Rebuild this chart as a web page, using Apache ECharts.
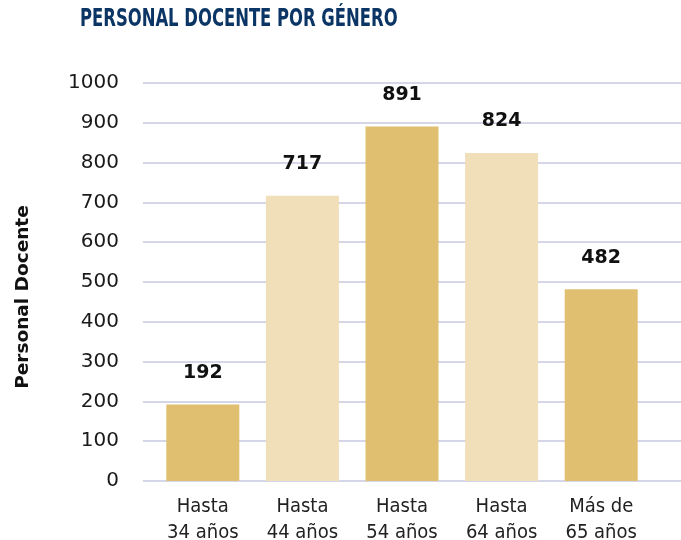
<!DOCTYPE html>
<html>
<head>
<meta charset="utf-8">
<script src="https://cdn.jsdelivr.net/npm/echarts@6/dist/echarts.min.js"></script>
<style>
  html, body { margin: 0; padding: 0; background: #fff; }
  #chart { width: 681px; height: 540px; }
</style>
</head>
<body>
<div id="chart"></div>
<script>
// age groups and headcount
const categories = ['Hasta\n34 años', 'Hasta\n44 años', 'Hasta\n54 años', 'Hasta\n64 años', 'Más de\n65 años'];
const values = [192, 717, 891, 824, 482];
const barColors = ['#e0c070', '#f0dfb8', '#e0c070', '#f0dfb8', '#e0c070'];

const chart = echarts.init(document.getElementById('chart'));

chart.setOption({
    animation: false,
    // condensed bold title, squeezed horizontally since no narrow font is around
    graphic: [{
        type: 'text',
        x: 80,
        y: 7,
        scaleX: 0.73,
        style: {
            text: 'PERSONAL DOCENTE POR GÉNERO',
            fontFamily: 'DejaVu Sans Condensed, sans-serif',
            fontWeight: 'bold',
            fontSize: 25,
            fill: '#0b3564',
            verticalAlign: 'top'
        }
    }],
    grid: [
        // background grid: gridlines run wider than the bars
        { left: 143, right: 0, top: 83, bottom: 59, outerBoundsMode: 'none' },
        { left: 153, right: 30, top: 83, bottom: 59, outerBoundsMode: 'none' }
    ],
    xAxis: [
        { type: 'value', gridIndex: 0, show: false, min: 0, max: 1 },
        {
            type: 'category',
            gridIndex: 1,
            data: categories,
            axisLine: { show: false },
            axisTick: { show: false },
            axisLabel: {
                margin: 13,
                fontFamily: 'DejaVu Sans Condensed, sans-serif',
                fontSize: 20,
                lineHeight: 26,
                color: '#222'
            }
        }
    ],
    yAxis: [
        {
            type: 'value',
            gridIndex: 0,
            min: 0,
            max: 1000,
            interval: 100,
            name: 'Personal Docente',
            nameLocation: 'middle',
            nameGap: 110,
            nameTextStyle: {
                fontFamily: 'DejaVu Sans, sans-serif',
                fontWeight: 'bold',
                fontSize: 18.5,
                color: '#111',
                padding: [0, 30, 0, 0]
            },
            axisLine: { show: false },
            axisTick: { show: false },
            axisLabel: {
                margin: 24,
                fontFamily: 'DejaVu Sans, sans-serif',
                fontSize: 20,
                color: '#1a1a1a',
                formatter: v => String(v)
            },
            splitLine: { lineStyle: { color: '#d5d7e8', width: 2 } }
        },
        { type: 'value', gridIndex: 1, min: 0, max: 1000, show: false }
    ],
    series: [
        {
            type: 'bar',
            xAxisIndex: 1,
            yAxisIndex: 1,
            barWidth: 73,
            data: values.map((v, i) => ({ value: v, itemStyle: { color: barColors[i] } })),
            label: {
                show: true,
                position: 'top',
                distance: 22,
                fontFamily: 'DejaVu Sans, sans-serif',
                fontWeight: 'bold',
                fontSize: 19,
                color: '#111'
            }
        }
    ]
});
</script>
</body>
</html>
